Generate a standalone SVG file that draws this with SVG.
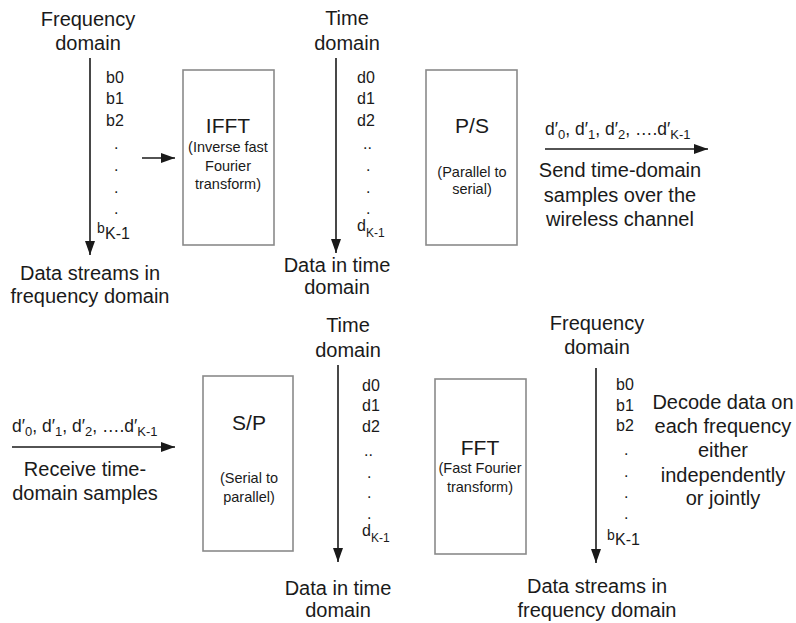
<svg xmlns="http://www.w3.org/2000/svg" width="796" height="623" viewBox="0 0 796 623">
  <style>
    text { font-family: "Liberation Sans", Arial, sans-serif; fill: #1a1a1a; }
    .lg { font-size: 20px; text-anchor: middle; }
    .blk { font-size: 21px; text-anchor: middle; }
    .sm { font-size: 14.5px; text-anchor: middle; }
    .lbl { font-size: 16px; }
    .sub { font-size: 12px; }
    .seq { font-size: 17.5px; }
    .seq .sub { font-size: 13px; }
    .box { fill: #fff; stroke: #8a8a8a; stroke-width: 1.6; }
    .wire { stroke: #1a1a1a; stroke-width: 1.6; fill: none; marker-end: url(#head); }
  </style>
  <defs>
    <marker id="head" viewBox="0 0 14 10" refX="14" refY="5" markerWidth="14" markerHeight="10" markerUnits="userSpaceOnUse" orient="auto">
      <path d="M0,0 L14,5 L0,10 Z" fill="#1a1a1a"/>
    </marker>
  </defs>

  <!-- transmitter: frequency-domain streams -->
  <g id="tx-freq">
    <text class="lg" x="88" y="26">Frequency</text>
    <text class="lg" x="88" y="50">domain</text>
    <text class="lbl" x="106" y="83">b0</text>
    <text class="lbl" x="106" y="104">b1</text>
    <text class="lbl" x="106" y="126">b2</text>
    <text class="lbl" x="114" y="149">.</text>
    <text class="lbl" x="114" y="171">.</text>
    <text class="lbl" x="114" y="193">.</text>
    <text class="lbl" x="114" y="214">.</text>
    <text x="97" y="233" font-size="14">b</text>
    <text x="105" y="239" font-size="16">K-1</text>
    <text class="lg" x="90" y="280">Data streams in</text>
    <text class="lg" x="90" y="303">frequency domain</text>
  </g>

  <g id="ifft">
    <rect class="box" x="183" y="70" width="91" height="175"/>
    <text class="blk" x="228" y="133">IFFT</text>
    <text class="sm" x="228" y="152">(Inverse fast</text>
    <text class="sm" x="228" y="171">Fourier</text>
    <text class="sm" x="228" y="189">transform)</text>
  </g>

  <g id="tx-time">
    <text class="lg" x="347" y="25">Time</text>
    <text class="lg" x="347" y="50">domain</text>
    <text class="lbl" x="357" y="83">d0</text>
    <text class="lbl" x="357" y="104">d1</text>
    <text class="lbl" x="357" y="126">d2</text>
    <text class="lbl" x="363" y="149">..</text>
    <text class="lbl" x="366" y="171">.</text>
    <text class="lbl" x="366" y="193">.</text>
    <text class="lbl" x="366" y="214">.</text>
    <text class="lbl" x="357" y="231">d<tspan class="sub" dy="6">K-1</tspan></text>
    <text class="lg" x="337" y="272">Data in time</text>
    <text class="lg" x="337" y="294">domain</text>
  </g>

  <g id="ps">
    <rect class="box" x="426" y="70" width="91" height="175"/>
    <text class="blk" x="472" y="133">P/S</text>
    <text class="sm" x="472" y="177">(Parallel to</text>
    <text class="sm" x="472" y="194">serial)</text>
  </g>

  <g id="tx-out">
    <text class="seq" x="545" y="135">d′<tspan class="sub" dy="4">0</tspan><tspan dy="-4">, d′</tspan><tspan class="sub" dy="4">1</tspan><tspan dy="-4">, d′</tspan><tspan class="sub" dy="4">2</tspan><tspan dy="-4">, ….d′</tspan><tspan class="sub" dy="4">K-1</tspan></text>
    <text class="lg" x="620" y="177">Send time-domain</text>
    <text class="lg" x="620" y="202">samples over the</text>
    <text class="lg" x="620" y="226">wireless channel</text>
  </g>

  <!-- receiver -->
  <g id="rx-in">
    <text class="seq" x="12" y="432">d′<tspan class="sub" dy="4">0</tspan><tspan dy="-4">, d′</tspan><tspan class="sub" dy="4">1</tspan><tspan dy="-4">, d′</tspan><tspan class="sub" dy="4">2</tspan><tspan dy="-4">, ….d′</tspan><tspan class="sub" dy="4">K-1</tspan></text>
    <text class="lg" x="85" y="476">Receive time-</text>
    <text class="lg" x="85" y="500">domain samples</text>
  </g>

  <g id="sp">
    <rect class="box" x="203" y="376" width="90" height="175"/>
    <text class="blk" x="249" y="430">S/P</text>
    <text class="sm" x="249" y="483">(Serial to</text>
    <text class="sm" x="249" y="502">parallel)</text>
  </g>

  <g id="rx-time">
    <text class="lg" x="348" y="332">Time</text>
    <text class="lg" x="348" y="357">domain</text>
    <text class="lbl" x="362" y="391">d0</text>
    <text class="lbl" x="362" y="411">d1</text>
    <text class="lbl" x="362" y="432">d2</text>
    <text class="lbl" x="364" y="456">..</text>
    <text class="lbl" x="367" y="478">.</text>
    <text class="lbl" x="367" y="498">.</text>
    <text class="lbl" x="367" y="519">.</text>
    <text class="lbl" x="362" y="536">d<tspan class="sub" dy="6">K-1</tspan></text>
    <text class="lg" x="338" y="595">Data in time</text>
    <text class="lg" x="338" y="617">domain</text>
  </g>

  <g id="fft">
    <rect class="box" x="435" y="379" width="91" height="175"/>
    <text class="blk" x="480" y="455">FFT</text>
    <text class="sm" x="480" y="473">(Fast Fourier</text>
    <text class="sm" x="480" y="492">transform)</text>
  </g>

  <g id="rx-freq">
    <text class="lg" x="597" y="330">Frequency</text>
    <text class="lg" x="597" y="354">domain</text>
    <text class="lbl" x="616" y="390">b0</text>
    <text class="lbl" x="616" y="411">b1</text>
    <text class="lbl" x="616" y="431">b2</text>
    <text class="lbl" x="624" y="455">.</text>
    <text class="lbl" x="624" y="477">.</text>
    <text class="lbl" x="624" y="498">.</text>
    <text class="lbl" x="624" y="519">.</text>
    <text x="607" y="540" font-size="14">b</text>
    <text x="615" y="545" font-size="16">K-1</text>
    <text class="lg" x="597" y="593">Data streams in</text>
    <text class="lg" x="597" y="617">frequency domain</text>
  </g>

  <g id="decode-note">
    <text class="lg" x="723" y="409">Decode data on</text>
    <text class="lg" x="723" y="433">each frequency</text>
    <text class="lg" x="723" y="457">either</text>
    <text class="lg" x="723" y="482">independently</text>
    <text class="lg" x="723" y="505">or jointly</text>
  </g>

  <!-- connectors -->
  <g id="connectors">
    <line class="wire" x1="90" y1="58" x2="90" y2="255"/>
    <line class="wire" x1="142" y1="158" x2="175" y2="158"/>
    <line class="wire" x1="336" y1="58" x2="336" y2="253"/>
    <line class="wire" x1="545" y1="149" x2="708" y2="149"/>
    <line class="wire" x1="12" y1="447" x2="175" y2="447"/>
    <line class="wire" x1="338" y1="365" x2="338" y2="562"/>
    <line class="wire" x1="596" y1="368" x2="596" y2="563"/>
  </g>
</svg>
